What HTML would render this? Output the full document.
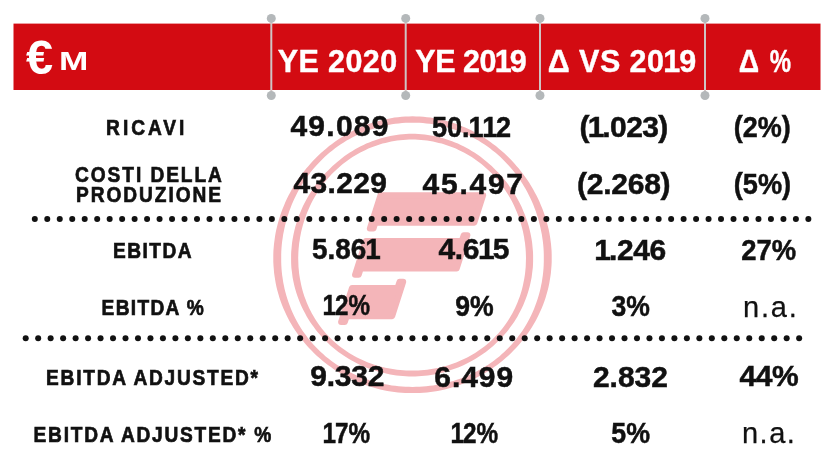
<!DOCTYPE html>
<html lang="it">
<head>
<meta charset="utf-8">
<title>Risultati YE 2020</title>
<style>
html,body{margin:0;padding:0;background:#fff;}
body{width:835px;height:460px;overflow:hidden;position:relative;font-family:"Liberation Sans",sans-serif;}
svg{position:absolute;left:0;top:0;display:block;}
text{font-family:"Liberation Sans",sans-serif;font-weight:bold;fill:#111111;stroke:#111111;stroke-width:0.5px;}
text.h{fill:#fff;stroke:#fff;stroke-width:0.4px;}
text.l{stroke-width:0.7px;}
text.e{fill:#fff;stroke:none;}
text.na{font-weight:normal;stroke-width:0.25px;}
</style>
</head>
<body>
<svg width="835" height="460" viewBox="0 0 835 460">
<rect width="835" height="460" fill="#fff"/>
<!-- watermark logo -->
<g fill="#f4b5b9" fill-rule="evenodd">
<path d="M551.7 254.8 L551.7 258.4 L551.7 262.0 L551.5 265.7 L551.2 269.3 L550.9 273.0 L550.4 276.6 L549.8 280.2 L549.2 283.8 L548.4 287.4 L547.5 290.9 L546.5 294.5 L545.5 297.9 L544.3 301.4 L543.0 304.9 L541.7 308.2 L540.2 311.6 L538.6 314.9 L537.0 318.2 L535.3 321.4 L533.5 324.6 L531.6 327.7 L529.6 330.8 L527.5 333.8 L525.4 336.8 L523.1 339.6 L520.8 342.5 L518.5 345.3 L516.0 348.0 L513.5 350.6 L510.9 353.2 L508.3 355.7 L505.6 358.1 L502.8 360.5 L500.0 362.8 L497.1 365.0 L494.1 367.1 L491.2 369.2 L488.1 371.2 L485.0 373.1 L481.9 374.9 L478.7 376.6 L475.5 378.3 L472.2 379.9 L468.9 381.4 L465.5 382.8 L462.2 384.1 L458.7 385.3 L455.3 386.5 L451.8 387.5 L448.3 388.5 L444.8 389.4 L441.3 390.2 L437.7 390.9 L434.2 391.5 L430.6 392.0 L427.0 392.4 L423.4 392.7 L419.7 393.0 L416.1 393.1 L412.5 393.1 L408.9 393.1 L405.3 393.0 L401.6 392.7 L398.0 392.4 L394.4 392.0 L390.8 391.5 L387.3 390.9 L383.7 390.2 L380.2 389.4 L376.7 388.5 L373.2 387.5 L369.7 386.5 L366.3 385.3 L362.8 384.1 L359.5 382.8 L356.1 381.4 L352.8 379.9 L349.5 378.3 L346.3 376.6 L343.1 374.9 L340.0 373.1 L336.9 371.2 L333.8 369.2 L330.9 367.1 L327.9 365.0 L325.0 362.8 L322.2 360.5 L319.4 358.1 L316.7 355.7 L314.1 353.2 L311.5 350.6 L309.0 348.0 L306.5 345.3 L304.2 342.5 L301.9 339.6 L299.6 336.8 L297.5 333.8 L295.4 330.8 L293.4 327.7 L291.5 324.6 L289.7 321.4 L288.0 318.2 L286.4 314.9 L284.8 311.6 L283.3 308.2 L282.0 304.9 L280.7 301.4 L279.5 297.9 L278.5 294.5 L277.5 290.9 L276.6 287.4 L275.8 283.8 L275.2 280.2 L274.6 276.6 L274.1 273.0 L273.8 269.3 L273.5 265.7 L273.3 262.0 L273.3 258.4 L273.3 254.8 L273.4 251.1 L273.7 247.5 L274.0 243.9 L274.5 240.2 L275.0 236.6 L275.6 233.1 L276.3 229.5 L277.2 226.0 L278.1 222.5 L279.1 219.0 L280.2 215.6 L281.4 212.1 L282.6 208.8 L284.0 205.4 L285.4 202.1 L286.9 198.8 L288.5 195.6 L290.2 192.4 L291.9 189.3 L293.7 186.2 L295.6 183.1 L297.6 180.1 L299.6 177.2 L301.8 174.3 L303.9 171.4 L306.2 168.6 L308.5 165.9 L310.8 163.2 L313.3 160.6 L315.8 158.0 L318.3 155.5 L320.9 153.1 L323.6 150.7 L326.3 148.4 L329.1 146.1 L332.0 143.9 L334.9 141.8 L337.8 139.7 L340.8 137.8 L343.9 135.9 L347.0 134.1 L350.1 132.3 L353.3 130.6 L356.5 129.1 L359.8 127.6 L363.1 126.2 L366.5 124.8 L369.9 123.6 L373.3 122.5 L376.8 121.4 L380.3 120.5 L383.8 119.6 L387.3 118.9 L390.9 118.2 L394.4 117.6 L398.0 117.2 L401.6 116.8 L405.3 116.6 L408.9 116.4 L412.5 116.3 L416.1 116.4 L419.7 116.6 L423.4 116.8 L427.0 117.2 L430.6 117.6 L434.1 118.2 L437.7 118.9 L441.2 119.6 L444.7 120.5 L448.2 121.4 L451.7 122.5 L455.1 123.6 L458.5 124.8 L461.9 126.2 L465.2 127.6 L468.5 129.1 L471.7 130.6 L474.9 132.3 L478.0 134.1 L481.1 135.9 L484.2 137.8 L487.2 139.7 L490.1 141.8 L493.0 143.9 L495.9 146.1 L498.7 148.4 L501.4 150.7 L504.1 153.1 L506.7 155.5 L509.2 158.0 L511.7 160.6 L514.2 163.2 L516.5 165.9 L518.8 168.6 L521.1 171.4 L523.2 174.3 L525.4 177.2 L527.4 180.1 L529.4 183.1 L531.3 186.2 L533.1 189.3 L534.8 192.4 L536.5 195.6 L538.1 198.8 L539.6 202.1 L541.0 205.4 L542.4 208.8 L543.6 212.1 L544.8 215.6 L545.9 219.0 L546.9 222.5 L547.8 226.0 L548.7 229.5 L549.4 233.1 L550.0 236.6 L550.5 240.2 L551.0 243.9 L551.3 247.5 L551.6 251.1Z M543.8 254.8 L543.8 258.2 L543.8 261.6 L543.7 265.1 L543.5 268.5 L543.2 272.0 L542.8 275.4 L542.3 278.8 L541.8 282.2 L541.1 285.6 L540.4 289.0 L539.5 292.4 L538.6 295.7 L537.6 299.1 L536.5 302.3 L535.3 305.6 L534.0 308.9 L532.7 312.1 L531.2 315.2 L529.6 318.4 L528.0 321.4 L526.3 324.5 L524.5 327.5 L522.6 330.4 L520.6 333.3 L518.5 336.1 L516.4 338.9 L514.2 341.6 L511.9 344.2 L509.5 346.8 L507.0 349.3 L504.5 351.7 L501.9 354.1 L499.3 356.4 L496.6 358.6 L493.8 360.7 L491.0 362.8 L488.1 364.7 L485.1 366.6 L482.2 368.4 L479.1 370.1 L476.0 371.8 L472.9 373.3 L469.8 374.8 L466.6 376.2 L463.3 377.5 L460.1 378.7 L456.8 379.8 L453.5 380.9 L450.1 381.8 L446.8 382.7 L443.4 383.5 L440.0 384.2 L436.6 384.8 L433.2 385.4 L429.8 385.8 L426.3 386.2 L422.9 386.5 L419.4 386.7 L416.0 386.8 L412.5 386.9 L409.0 386.8 L405.6 386.7 L402.1 386.5 L398.7 386.2 L395.2 385.8 L391.8 385.4 L388.4 384.8 L385.0 384.2 L381.6 383.5 L378.2 382.7 L374.9 381.8 L371.5 380.9 L368.2 379.8 L364.9 378.7 L361.7 377.5 L358.4 376.2 L355.2 374.8 L352.1 373.3 L349.0 371.8 L345.9 370.1 L342.8 368.4 L339.9 366.6 L336.9 364.7 L334.0 362.8 L331.2 360.7 L328.4 358.6 L325.7 356.4 L323.1 354.1 L320.5 351.7 L318.0 349.3 L315.5 346.8 L313.1 344.2 L310.8 341.6 L308.6 338.9 L306.5 336.1 L304.4 333.3 L302.4 330.4 L300.5 327.5 L298.7 324.5 L297.0 321.4 L295.4 318.4 L293.8 315.2 L292.3 312.1 L291.0 308.9 L289.7 305.6 L288.5 302.3 L287.4 299.1 L286.4 295.7 L285.5 292.4 L284.6 289.0 L283.9 285.6 L283.2 282.2 L282.7 278.8 L282.2 275.4 L281.8 272.0 L281.5 268.5 L281.3 265.1 L281.2 261.6 L281.2 258.2 L281.2 254.8 L281.3 251.3 L281.5 247.9 L281.8 244.5 L282.2 241.1 L282.7 237.7 L283.2 234.3 L283.9 230.9 L284.6 227.6 L285.4 224.2 L286.2 220.9 L287.2 217.6 L288.2 214.4 L289.3 211.1 L290.5 207.9 L291.7 204.7 L293.1 201.6 L294.5 198.5 L296.0 195.4 L297.6 192.3 L299.2 189.3 L300.9 186.4 L302.7 183.5 L304.6 180.6 L306.5 177.8 L308.5 175.0 L310.6 172.3 L312.8 169.6 L315.0 167.0 L317.3 164.4 L319.7 161.9 L322.1 159.5 L324.6 157.1 L327.1 154.8 L329.7 152.6 L332.4 150.4 L335.1 148.3 L337.9 146.3 L340.8 144.3 L343.7 142.4 L346.6 140.6 L349.6 138.9 L352.6 137.3 L355.7 135.7 L358.9 134.3 L362.0 132.9 L365.2 131.6 L368.4 130.3 L371.7 129.2 L375.0 128.2 L378.3 127.2 L381.7 126.4 L385.0 125.6 L388.4 124.9 L391.8 124.3 L395.3 123.8 L398.7 123.4 L402.1 123.1 L405.6 122.8 L409.0 122.7 L412.5 122.7 L416.0 122.7 L419.4 122.8 L422.9 123.1 L426.3 123.4 L429.7 123.8 L433.2 124.3 L436.6 124.9 L440.0 125.6 L443.3 126.4 L446.7 127.2 L450.0 128.2 L453.3 129.2 L456.6 130.3 L459.8 131.6 L463.0 132.9 L466.1 134.3 L469.3 135.7 L472.4 137.3 L475.4 138.9 L478.4 140.6 L481.3 142.4 L484.2 144.3 L487.1 146.3 L489.9 148.3 L492.6 150.4 L495.3 152.6 L497.9 154.8 L500.4 157.1 L502.9 159.5 L505.3 161.9 L507.7 164.4 L510.0 167.0 L512.2 169.6 L514.4 172.3 L516.5 175.0 L518.5 177.8 L520.4 180.6 L522.3 183.5 L524.1 186.4 L525.8 189.3 L527.4 192.3 L529.0 195.4 L530.5 198.5 L531.9 201.6 L533.3 204.7 L534.5 207.9 L535.7 211.1 L536.8 214.4 L537.8 217.6 L538.8 220.9 L539.6 224.2 L540.4 227.6 L541.1 230.9 L541.8 234.3 L542.3 237.7 L542.8 241.1 L543.2 244.5 L543.5 247.9 L543.7 251.3Z"/>
<path d="M533.1 255.1 L533.1 258.3 L533.1 261.5 L533.0 264.7 L532.8 267.9 L532.4 271.1 L532.0 274.3 L531.6 277.4 L531.0 280.6 L530.3 283.7 L529.6 286.8 L528.7 289.9 L527.8 293.0 L526.8 296.1 L525.7 299.1 L524.5 302.1 L523.3 305.0 L521.9 307.9 L520.5 310.8 L519.0 313.6 L517.5 316.4 L515.8 319.2 L514.1 321.9 L512.3 324.5 L510.4 327.1 L508.5 329.7 L506.5 332.2 L504.4 334.6 L502.3 337.0 L500.1 339.3 L497.8 341.5 L495.5 343.7 L493.2 345.9 L490.7 347.9 L488.3 350.0 L485.8 351.9 L483.2 353.8 L480.6 355.6 L477.9 357.3 L475.2 359.0 L472.5 360.5 L469.7 362.1 L466.9 363.5 L464.0 364.9 L461.2 366.2 L458.2 367.4 L455.3 368.6 L452.3 369.6 L449.3 370.6 L446.3 371.5 L443.3 372.4 L440.2 373.1 L437.1 373.8 L434.0 374.4 L430.9 374.9 L427.8 375.4 L424.7 375.8 L421.5 376.0 L418.4 376.2 L415.2 376.4 L412.1 376.4 L409.0 376.4 L405.8 376.2 L402.7 376.0 L399.5 375.8 L396.4 375.4 L393.3 374.9 L390.2 374.4 L387.1 373.8 L384.0 373.1 L380.9 372.4 L377.9 371.5 L374.9 370.6 L371.9 369.6 L368.9 368.6 L366.0 367.4 L363.0 366.2 L360.2 364.9 L357.3 363.5 L354.5 362.1 L351.7 360.5 L349.0 359.0 L346.3 357.3 L343.6 355.6 L341.0 353.8 L338.4 351.9 L335.9 350.0 L333.5 347.9 L331.0 345.9 L328.7 343.7 L326.4 341.5 L324.1 339.3 L321.9 337.0 L319.8 334.6 L317.7 332.2 L315.7 329.7 L313.8 327.1 L311.9 324.5 L310.1 321.9 L308.4 319.2 L306.7 316.4 L305.2 313.6 L303.7 310.8 L302.3 307.9 L300.9 305.0 L299.7 302.1 L298.5 299.1 L297.4 296.1 L296.4 293.0 L295.5 289.9 L294.6 286.8 L293.9 283.7 L293.2 280.6 L292.6 277.4 L292.2 274.3 L291.8 271.1 L291.4 267.9 L291.2 264.7 L291.1 261.5 L291.1 258.3 L291.1 255.1 L291.2 251.9 L291.5 248.7 L291.8 245.6 L292.1 242.4 L292.6 239.2 L293.2 236.1 L293.8 233.0 L294.5 229.9 L295.3 226.8 L296.2 223.8 L297.2 220.8 L298.2 217.8 L299.3 214.8 L300.5 211.9 L301.7 209.0 L303.0 206.1 L304.4 203.3 L305.9 200.5 L307.4 197.8 L309.0 195.1 L310.6 192.4 L312.3 189.7 L314.1 187.2 L315.9 184.6 L317.8 182.1 L319.7 179.7 L321.7 177.3 L323.8 174.9 L325.9 172.6 L328.1 170.4 L330.3 168.2 L332.5 166.0 L334.9 163.9 L337.2 161.9 L339.7 159.9 L342.1 158.0 L344.6 156.1 L347.2 154.3 L349.8 152.6 L352.5 150.9 L355.1 149.3 L357.9 147.8 L360.7 146.3 L363.5 145.0 L366.3 143.6 L369.2 142.4 L372.1 141.2 L375.1 140.2 L378.0 139.2 L381.0 138.2 L384.1 137.4 L387.1 136.7 L390.2 136.0 L393.3 135.4 L396.4 134.9 L399.5 134.5 L402.7 134.2 L405.8 134.0 L409.0 133.8 L412.1 133.8 L415.2 133.8 L418.4 134.0 L421.5 134.2 L424.7 134.5 L427.8 134.9 L430.9 135.4 L434.0 136.0 L437.1 136.7 L440.1 137.4 L443.2 138.2 L446.2 139.2 L449.1 140.2 L452.1 141.2 L455.0 142.4 L457.9 143.6 L460.7 145.0 L463.5 146.3 L466.3 147.8 L469.1 149.3 L471.7 150.9 L474.4 152.6 L477.0 154.3 L479.6 156.1 L482.1 158.0 L484.5 159.9 L487.0 161.9 L489.3 163.9 L491.7 166.0 L493.9 168.2 L496.1 170.4 L498.3 172.6 L500.4 174.9 L502.5 177.3 L504.5 179.7 L506.4 182.1 L508.3 184.6 L510.1 187.2 L511.9 189.7 L513.6 192.4 L515.2 195.1 L516.8 197.8 L518.3 200.5 L519.8 203.3 L521.2 206.1 L522.5 209.0 L523.7 211.9 L524.9 214.8 L526.0 217.8 L527.0 220.8 L528.0 223.8 L528.9 226.8 L529.7 229.9 L530.4 233.0 L531.0 236.1 L531.6 239.2 L532.1 242.4 L532.4 245.6 L532.7 248.7 L533.0 251.9Z M525.9 255.1 L526.0 258.1 L525.9 261.1 L525.8 264.1 L525.7 267.1 L525.4 270.1 L525.1 273.2 L524.7 276.1 L524.2 279.1 L523.6 282.1 L523.0 285.1 L522.3 288.0 L521.5 291.0 L520.6 293.9 L519.7 296.7 L518.6 299.6 L517.5 302.4 L516.3 305.2 L515.1 308.0 L513.7 310.8 L512.3 313.4 L510.8 316.1 L509.2 318.7 L507.6 321.3 L505.9 323.8 L504.1 326.3 L502.2 328.7 L500.3 331.1 L498.3 333.4 L496.2 335.6 L494.1 337.8 L491.9 339.9 L489.7 342.0 L487.4 344.0 L485.0 345.9 L482.6 347.8 L480.1 349.6 L477.6 351.3 L475.1 352.9 L472.5 354.5 L469.9 356.0 L467.2 357.4 L464.5 358.8 L461.7 360.1 L459.0 361.3 L456.2 362.4 L453.3 363.5 L450.5 364.5 L447.6 365.4 L444.7 366.2 L441.8 367.0 L438.9 367.7 L436.0 368.3 L433.0 368.8 L430.0 369.3 L427.1 369.7 L424.1 370.0 L421.1 370.3 L418.1 370.5 L415.1 370.6 L412.1 370.6 L409.1 370.6 L406.1 370.5 L403.1 370.3 L400.1 370.0 L397.1 369.7 L394.2 369.3 L391.2 368.8 L388.2 368.3 L385.3 367.7 L382.4 367.0 L379.5 366.2 L376.6 365.4 L373.7 364.5 L370.9 363.5 L368.0 362.4 L365.2 361.3 L362.5 360.1 L359.7 358.8 L357.0 357.4 L354.3 356.0 L351.7 354.5 L349.1 352.9 L346.6 351.3 L344.1 349.6 L341.6 347.8 L339.2 345.9 L336.8 344.0 L334.5 342.0 L332.3 339.9 L330.1 337.8 L328.0 335.6 L325.9 333.4 L323.9 331.1 L322.0 328.7 L320.1 326.3 L318.3 323.8 L316.6 321.3 L315.0 318.7 L313.4 316.1 L311.9 313.4 L310.5 310.8 L309.1 308.0 L307.9 305.2 L306.7 302.4 L305.6 299.6 L304.5 296.7 L303.6 293.9 L302.7 291.0 L301.9 288.0 L301.2 285.1 L300.6 282.1 L300.0 279.1 L299.5 276.1 L299.1 273.2 L298.8 270.1 L298.5 267.1 L298.4 264.1 L298.3 261.1 L298.2 258.1 L298.3 255.1 L298.4 252.1 L298.6 249.1 L298.9 246.1 L299.2 243.1 L299.7 240.2 L300.1 237.2 L300.7 234.3 L301.3 231.3 L302.0 228.4 L302.8 225.5 L303.6 222.7 L304.5 219.8 L305.5 217.0 L306.5 214.2 L307.6 211.4 L308.8 208.7 L310.0 206.0 L311.3 203.3 L312.7 200.6 L314.1 198.0 L315.6 195.4 L317.2 192.9 L318.8 190.4 L320.5 187.9 L322.2 185.5 L324.0 183.1 L325.9 180.8 L327.8 178.5 L329.8 176.3 L331.8 174.1 L333.9 172.0 L336.1 169.9 L338.3 167.9 L340.5 165.9 L342.8 164.0 L345.2 162.2 L347.6 160.4 L350.0 158.7 L352.5 157.1 L355.1 155.5 L357.7 154.0 L360.3 152.5 L363.0 151.2 L365.6 149.9 L368.4 148.6 L371.1 147.5 L373.9 146.4 L376.8 145.4 L379.6 144.5 L382.5 143.6 L385.4 142.9 L388.3 142.2 L391.2 141.6 L394.2 141.1 L397.2 140.6 L400.1 140.3 L403.1 140.0 L406.1 139.8 L409.1 139.6 L412.1 139.6 L415.1 139.6 L418.1 139.8 L421.1 140.0 L424.1 140.3 L427.0 140.6 L430.0 141.1 L433.0 141.6 L435.9 142.2 L438.8 142.9 L441.7 143.6 L444.6 144.5 L447.4 145.4 L450.3 146.4 L453.1 147.5 L455.8 148.6 L458.6 149.9 L461.2 151.2 L463.9 152.5 L466.5 154.0 L469.1 155.5 L471.7 157.1 L474.2 158.7 L476.6 160.4 L479.0 162.2 L481.4 164.0 L483.7 165.9 L485.9 167.9 L488.1 169.9 L490.3 172.0 L492.4 174.1 L494.4 176.3 L496.4 178.5 L498.3 180.8 L500.2 183.1 L502.0 185.5 L503.7 187.9 L505.4 190.4 L507.0 192.9 L508.6 195.4 L510.1 198.0 L511.5 200.6 L512.9 203.3 L514.2 206.0 L515.4 208.7 L516.6 211.4 L517.7 214.2 L518.7 217.0 L519.7 219.8 L520.6 222.7 L521.4 225.5 L522.2 228.4 L522.9 231.3 L523.5 234.3 L524.1 237.2 L524.5 240.2 L525.0 243.1 L525.3 246.1 L525.6 249.1 L525.8 252.1Z"/>
</g>
<g fill="#f4b5b9" stroke="#f4b5b9" stroke-width="6" stroke-linejoin="round">
<path d="M380.5 195.2 L483.2 195.2 L474.4 222.7 L375.4 222.7 L373.5 228.6 L369.8 228.6 Z"/>
<path d="M365.8 241.0 L461.8 241.0 L463.7 235.2 L467.4 235.2 L456.7 268.6 L360.7 268.6 L358.7 274.8 L355.0 274.8 Z"/>
<path d="M352.0 288.0 L397.5 288.0 L399.5 281.8 L403.2 281.8 L392.2 316.2 L346.7 316.2 L344.8 322.0 L341.1 322.0 Z"/>
</g>
<!-- header bar -->
<rect x="13.5" y="23.6" width="807" height="66.4" fill="#d30b12"/>
<g stroke="#cfc4c4" stroke-width="2" fill="#b4b8ba">

<line x1="271.3" y1="18.4" x2="271.3" y2="95.5"/><circle cx="271.3" cy="18.4" r="4.5" stroke="none"/><circle cx="271.3" cy="95.5" r="4.5" stroke="none"/>
<line x1="405.7" y1="18.4" x2="405.7" y2="95.5"/><circle cx="405.7" cy="18.4" r="4.5" stroke="none"/><circle cx="405.7" cy="95.5" r="4.5" stroke="none"/>
<line x1="540" y1="18.4" x2="540" y2="95.5"/><circle cx="540" cy="18.4" r="4.5" stroke="none"/><circle cx="540" cy="95.5" r="4.5" stroke="none"/>
<line x1="705" y1="18.4" x2="705" y2="95.5"/><circle cx="705" cy="18.4" r="4.5" stroke="none"/><circle cx="705" cy="95.5" r="4.5" stroke="none"/>
</g>
<g fill="#111111">
<circle cx="34.80" cy="219" r="3.0"/>
<circle cx="47.28" cy="219" r="3.0"/>
<circle cx="59.75" cy="219" r="3.0"/>
<circle cx="72.23" cy="219" r="3.0"/>
<circle cx="84.71" cy="219" r="3.0"/>
<circle cx="97.19" cy="219" r="3.0"/>
<circle cx="109.66" cy="219" r="3.0"/>
<circle cx="122.14" cy="219" r="3.0"/>
<circle cx="134.62" cy="219" r="3.0"/>
<circle cx="147.09" cy="219" r="3.0"/>
<circle cx="159.57" cy="219" r="3.0"/>
<circle cx="172.05" cy="219" r="3.0"/>
<circle cx="184.52" cy="219" r="3.0"/>
<circle cx="197.00" cy="219" r="3.0"/>
<circle cx="209.48" cy="219" r="3.0"/>
<circle cx="221.96" cy="219" r="3.0"/>
<circle cx="234.43" cy="219" r="3.0"/>
<circle cx="246.91" cy="219" r="3.0"/>
<circle cx="259.39" cy="219" r="3.0"/>
<circle cx="271.86" cy="219" r="3.0"/>
<circle cx="284.34" cy="219" r="3.0"/>
<circle cx="296.82" cy="219" r="3.0"/>
<circle cx="309.29" cy="219" r="3.0"/>
<circle cx="321.77" cy="219" r="3.0"/>
<circle cx="334.25" cy="219" r="3.0"/>
<circle cx="346.72" cy="219" r="3.0"/>
<circle cx="359.20" cy="219" r="3.0"/>
<circle cx="371.68" cy="219" r="3.0"/>
<circle cx="384.16" cy="219" r="3.0"/>
<circle cx="396.63" cy="219" r="3.0"/>
<circle cx="409.11" cy="219" r="3.0"/>
<circle cx="421.59" cy="219" r="3.0"/>
<circle cx="434.06" cy="219" r="3.0"/>
<circle cx="446.54" cy="219" r="3.0"/>
<circle cx="459.02" cy="219" r="3.0"/>
<circle cx="471.49" cy="219" r="3.0"/>
<circle cx="483.97" cy="219" r="3.0"/>
<circle cx="496.45" cy="219" r="3.0"/>
<circle cx="508.93" cy="219" r="3.0"/>
<circle cx="521.40" cy="219" r="3.0"/>
<circle cx="533.88" cy="219" r="3.0"/>
<circle cx="546.36" cy="219" r="3.0"/>
<circle cx="558.83" cy="219" r="3.0"/>
<circle cx="571.31" cy="219" r="3.0"/>
<circle cx="583.79" cy="219" r="3.0"/>
<circle cx="596.26" cy="219" r="3.0"/>
<circle cx="608.74" cy="219" r="3.0"/>
<circle cx="621.22" cy="219" r="3.0"/>
<circle cx="633.70" cy="219" r="3.0"/>
<circle cx="646.17" cy="219" r="3.0"/>
<circle cx="658.65" cy="219" r="3.0"/>
<circle cx="671.13" cy="219" r="3.0"/>
<circle cx="683.60" cy="219" r="3.0"/>
<circle cx="696.08" cy="219" r="3.0"/>
<circle cx="708.56" cy="219" r="3.0"/>
<circle cx="721.03" cy="219" r="3.0"/>
<circle cx="733.51" cy="219" r="3.0"/>
<circle cx="745.99" cy="219" r="3.0"/>
<circle cx="758.47" cy="219" r="3.0"/>
<circle cx="770.94" cy="219" r="3.0"/>
<circle cx="783.42" cy="219" r="3.0"/>
<circle cx="795.90" cy="219" r="3.0"/>
<circle cx="808.37" cy="219" r="3.0"/>
<circle cx="25.70" cy="338.2" r="3.0"/>
<circle cx="38.17" cy="338.2" r="3.0"/>
<circle cx="50.65" cy="338.2" r="3.0"/>
<circle cx="63.12" cy="338.2" r="3.0"/>
<circle cx="75.60" cy="338.2" r="3.0"/>
<circle cx="88.07" cy="338.2" r="3.0"/>
<circle cx="100.55" cy="338.2" r="3.0"/>
<circle cx="113.02" cy="338.2" r="3.0"/>
<circle cx="125.50" cy="338.2" r="3.0"/>
<circle cx="137.97" cy="338.2" r="3.0"/>
<circle cx="150.45" cy="338.2" r="3.0"/>
<circle cx="162.92" cy="338.2" r="3.0"/>
<circle cx="175.40" cy="338.2" r="3.0"/>
<circle cx="187.87" cy="338.2" r="3.0"/>
<circle cx="200.35" cy="338.2" r="3.0"/>
<circle cx="212.82" cy="338.2" r="3.0"/>
<circle cx="225.30" cy="338.2" r="3.0"/>
<circle cx="237.77" cy="338.2" r="3.0"/>
<circle cx="250.25" cy="338.2" r="3.0"/>
<circle cx="262.72" cy="338.2" r="3.0"/>
<circle cx="275.20" cy="338.2" r="3.0"/>
<circle cx="287.67" cy="338.2" r="3.0"/>
<circle cx="300.15" cy="338.2" r="3.0"/>
<circle cx="312.62" cy="338.2" r="3.0"/>
<circle cx="325.10" cy="338.2" r="3.0"/>
<circle cx="337.58" cy="338.2" r="3.0"/>
<circle cx="350.05" cy="338.2" r="3.0"/>
<circle cx="362.53" cy="338.2" r="3.0"/>
<circle cx="375.00" cy="338.2" r="3.0"/>
<circle cx="387.48" cy="338.2" r="3.0"/>
<circle cx="399.95" cy="338.2" r="3.0"/>
<circle cx="412.43" cy="338.2" r="3.0"/>
<circle cx="424.90" cy="338.2" r="3.0"/>
<circle cx="437.38" cy="338.2" r="3.0"/>
<circle cx="449.85" cy="338.2" r="3.0"/>
<circle cx="462.33" cy="338.2" r="3.0"/>
<circle cx="474.80" cy="338.2" r="3.0"/>
<circle cx="487.28" cy="338.2" r="3.0"/>
<circle cx="499.75" cy="338.2" r="3.0"/>
<circle cx="512.23" cy="338.2" r="3.0"/>
<circle cx="524.70" cy="338.2" r="3.0"/>
<circle cx="537.18" cy="338.2" r="3.0"/>
<circle cx="549.65" cy="338.2" r="3.0"/>
<circle cx="562.13" cy="338.2" r="3.0"/>
<circle cx="574.60" cy="338.2" r="3.0"/>
<circle cx="587.08" cy="338.2" r="3.0"/>
<circle cx="599.55" cy="338.2" r="3.0"/>
<circle cx="612.03" cy="338.2" r="3.0"/>
<circle cx="624.50" cy="338.2" r="3.0"/>
<circle cx="636.98" cy="338.2" r="3.0"/>
<circle cx="649.45" cy="338.2" r="3.0"/>
<circle cx="661.93" cy="338.2" r="3.0"/>
<circle cx="674.40" cy="338.2" r="3.0"/>
<circle cx="686.88" cy="338.2" r="3.0"/>
<circle cx="699.35" cy="338.2" r="3.0"/>
<circle cx="711.83" cy="338.2" r="3.0"/>
<circle cx="724.30" cy="338.2" r="3.0"/>
<circle cx="736.78" cy="338.2" r="3.0"/>
<circle cx="749.25" cy="338.2" r="3.0"/>
<circle cx="761.73" cy="338.2" r="3.0"/>
<circle cx="774.20" cy="338.2" r="3.0"/>
<circle cx="786.68" cy="338.2" r="3.0"/>
<circle cx="799.15" cy="338.2" r="3.0"/>
</g>
<text class="e"><tspan x="26.09" y="73.60" font-size="47.5" textLength="27.17" lengthAdjust="spacingAndGlyphs">€</tspan> <tspan x="58.96" y="70.20" font-size="26.5" textLength="29.34" lengthAdjust="spacingAndGlyphs">M</tspan></text>
<text class="h" x="277.67" y="71.84" font-size="30.5" textLength="119.53" lengthAdjust="spacing">YE 2020</text>
<text class="h" x="415.26" y="71.84" font-size="30.5" textLength="111.58" lengthAdjust="spacing" dx="0.00 0.00 0.00 0.00 0.00 -1.22 -1.42">YE 2019</text>
<text class="h" x="547.83" y="71.84" font-size="30.5" textLength="148.35" lengthAdjust="spacing" dx="0.00 0.00 0.00 0.00 0.00 0.00 0.00 -1.22 -1.42">Δ VS 2019</text>
<text class="h"><tspan x="738.63" y="71.84" font-size="30.5" textLength="20.39" lengthAdjust="spacingAndGlyphs">Δ</tspan> <tspan x="769.75" y="71.84" font-size="30.5" textLength="21.29" lengthAdjust="spacingAndGlyphs">%</tspan></text>
<text class="l" transform="translate(106.11 135.24) scale(0.87 1)" font-size="22" textLength="90.04" lengthAdjust="spacing">RICAVI</text>
<text class="l" transform="translate(75.08 181.64) scale(0.87 1)" font-size="22" textLength="168.72" lengthAdjust="spacing">COSTI DELLA</text>
<text class="l" transform="translate(76.06 202.24) scale(0.87 1)" font-size="22" textLength="166.65" lengthAdjust="spacing">PRODUZIONE</text>
<text class="l" transform="translate(113.06 258.24) scale(0.87 1)" font-size="22" textLength="90.13" lengthAdjust="spacing">EBITDA</text>
<text class="l" transform="translate(101.59 315.24) scale(0.87 1)" font-size="22" textLength="117.30" lengthAdjust="spacing">EBITDA %</text>
<text class="l" transform="translate(46.06 385.24) scale(0.87 1)" font-size="22" textLength="243.60" lengthAdjust="spacing">EBITDA ADJUSTED*</text>
<text class="l" transform="translate(33.59 441.84) scale(0.87 1)" font-size="22" textLength="273.31" lengthAdjust="spacing">EBITDA ADJUSTED* %</text>
<text class="v" x="290.42" y="136.04" font-size="30.0" textLength="98.01" lengthAdjust="spacing">49.089</text>
<text class="v" x="431.96" y="137.24" font-size="30.0" textLength="79.06" lengthAdjust="spacingAndGlyphs" dx="0.00 0.00 0.00 -1.20 0.00 -1.40">50.112</text>
<text class="v" x="579.56" y="136.84" font-size="30.0" textLength="88.67" lengthAdjust="spacing" dx="0.00 -1.20 -1.40 0.00 0.00 0.00 0.00">(1.023)</text>
<text class="v" x="733.82" y="136.84" font-size="30.0" textLength="56.96" lengthAdjust="spacingAndGlyphs">(2%)</text>
<text class="v" x="293.55" y="192.84" font-size="30.0" textLength="93.44" lengthAdjust="spacing">43.229</text>
<text class="v" x="422.55" y="193.84" font-size="30.0" textLength="100.44" lengthAdjust="spacing">45.497</text>
<text class="v" x="577.07" y="193.54" font-size="30.0" textLength="93.53" lengthAdjust="spacing">(2.268)</text>
<text class="v" x="733.75" y="193.54" font-size="30.0" textLength="57.39" lengthAdjust="spacingAndGlyphs">(5%)</text>
<text class="v" x="311.99" y="259.24" font-size="30.0" textLength="68.65" lengthAdjust="spacingAndGlyphs" dx="0.00 0.00 0.00 0.00 -1.20">5.861</text>
<text class="v" x="438.55" y="259.44" font-size="30.0" textLength="70.92" lengthAdjust="spacing" dx="0.00 0.00 0.00 -1.20 -1.40">4.615</text>
<text class="v" x="594.25" y="259.60" font-size="30.0" textLength="71.91" lengthAdjust="spacing" dx="0.00 -1.40 0.00 0.00 0.00">1.246</text>
<text class="v" x="741.15" y="259.84" font-size="30.0" textLength="54.90" lengthAdjust="spacingAndGlyphs">27%</text>
<text class="v" x="322.57" y="315.44" font-size="30.0" textLength="47.38" lengthAdjust="spacingAndGlyphs" dx="0.00 -1.40 0.00">12%</text>
<text class="v" x="455.31" y="316.04" font-size="30.0" textLength="38.44" lengthAdjust="spacingAndGlyphs">9%</text>
<text class="v" x="611.62" y="316.04" font-size="30.0" textLength="38.35" lengthAdjust="spacingAndGlyphs">3%</text>
<text class="na" x="743.10" y="317.04" font-size="29" textLength="53.68" lengthAdjust="spacing">n.a.</text>
<text class="v" x="310.19" y="385.84" font-size="30.0" textLength="74.30" lengthAdjust="spacing">9.332</text>
<text class="v" x="434.23" y="387.24" font-size="30.0" textLength="78.96" lengthAdjust="spacing">6.499</text>
<text class="v" x="592.91" y="386.84" font-size="30.0" textLength="75.08" lengthAdjust="spacing">2.832</text>
<text class="v" x="739.55" y="385.84" font-size="30.0" textLength="59.02" lengthAdjust="spacing">44%</text>
<text class="v" x="322.49" y="442.64" font-size="30.0" textLength="47.56" lengthAdjust="spacingAndGlyphs" dx="0.00 -1.40 0.00">17%</text>
<text class="v" x="450.49" y="443.01" font-size="30.0" textLength="47.56" lengthAdjust="spacingAndGlyphs" dx="0.00 -1.40 0.00">12%</text>
<text class="v" x="611.36" y="442.84" font-size="30.0" textLength="38.72" lengthAdjust="spacingAndGlyphs">5%</text>
<text class="na" x="741.90" y="443.04" font-size="29" textLength="52.96" lengthAdjust="spacing">n.a.</text>
</svg>
</body>
</html>
